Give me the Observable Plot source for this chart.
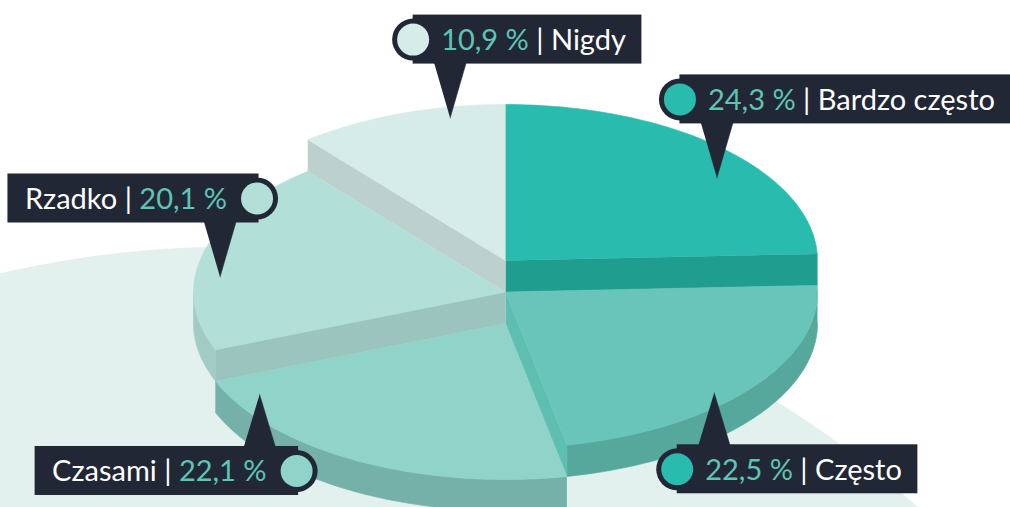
<!DOCTYPE html>
<html>
<head>
<meta charset="utf-8">
<script src="https://cdn.jsdelivr.net/npm/d3@7"></script>
<script src="https://cdn.jsdelivr.net/npm/@observablehq/plot@0.6"></script>
<style>
  html, body { margin: 0; padding: 0; background: #ffffff; }
  #chart { width: 1010px; height: 507px; overflow: hidden; }
</style>
</head>
<body>
<div id="chart"></div>
<script>
// ---------- data ----------
const categories = ["Bardzo często", "Często", "Czasami", "Rzadko", "Nigdy"];
const values = [24.3, 22.5, 22.1, 20.1, 10.9];

// ---------- styling / layout ----------
const topColors = ["#29bbad", "#69c5b9", "#8fd3c9", "#b3dfd9", "#d6ece8"];
const markerColors = ["#29bbad", "#29bbad", "#8fd3c9", "#b3dfd9", "#d6ece8"];
const outerWallColors = ["#1f9e8f", "#56a89c", "#76b1a9", "#a2cbc5", "#bcd1cd"];
const radialWallColors = ["#1f9e8f", "#5ebfb1", "#7fc4ba", "#9cc4be", "#bcd1cd"];
const sliceLevels = [0, 1, 2, 1, 0];
const calloutAngle = [52, 134, 240, 276, 349];
const calloutRadius = [0.86, 0.93, 0.91, 0.92, 0.93];
const calloutSide = ["right", "right", "left", "left", "right"];
const calloutDir = ["up", "down", "down", "up", "up"];

const W = 1010, H = 507;
const cx = 505, cy = 260, rx = 312, ry = 156, depth = 31.5;
const dark = "#222736", teal = "#5ec4b3";
const fontSize = 29, fontFamily = "Lato, 'Open Sans', sans-serif";

const total = d3.sum(values);
let acc = 0;
const slices = values.map((v, i) => {
  const a0 = acc / total * 360; acc += v; const a1 = acc / total * 360;
  return {i, a0, a1, level: sliceLevels[i]};
});

function proj(deg, r, level, down) {
  const t = deg * Math.PI / 180;
  return {x: cx + rx * r * Math.sin(t), y: cy + level * depth + down - ry * r * Math.cos(t)};
}
function arc(a0, a1, level, down) {
  const n = Math.max(2, Math.ceil(Math.abs(a1 - a0)));
  const pts = [];
  for (let k = 0; k <= n; k++) pts.push(proj(a0 + (a1 - a0) * k / n, 1, level, down));
  return pts;
}

// polygons in painter's order
const polys = [];
// background disc
{
  const pts = [];
  const bcx = 233, bcy = 1275, br = 1029;
  for (let k = 0; k <= 360; k++) {
    const t = k * Math.PI / 180;
    pts.push({x: bcx + br * Math.cos(t), y: bcy + br * Math.sin(t)});
  }
  polys.push({pts, color: "#e3f1ee", stroke: "none"});
}
const n = slices.length;
const order = slices.slice().sort((a, b) => a.level - b.level || a.i - b.i);
for (const s of order) {
  const prev = slices[(s.i - 1 + n) % n], next = slices[(s.i + 1) % n];
  const lo = Math.max(s.a0, 90), hi = Math.min(s.a1, 270);
  if (hi > lo) {
    const pts = arc(lo, hi, s.level, 0).concat(arc(hi, lo, s.level, depth));
    polys.push({pts, color: outerWallColors[s.i]});
  }
  if (prev.level > s.level) {
    const c = proj(0, 0, s.level, 0), e = proj(s.a0, 1, s.level, 0);
    polys.push({pts: [c, e, {x: e.x, y: e.y + depth}, {x: c.x, y: c.y + depth}], color: radialWallColors[s.i]});
  }
  if (next.level > s.level) {
    const c = proj(0, 0, s.level, 0), e = proj(s.a1, 1, s.level, 0);
    polys.push({pts: [c, e, {x: e.x, y: e.y + depth}, {x: c.x, y: c.y + depth}], color: radialWallColors[s.i]});
  }
  const top = [proj(0, 0, s.level, 0)].concat(arc(s.a0, s.a1, s.level, 0));
  polys.push({pts: top, color: topColors[s.i]});
}

// ---------- callouts ----------
const ctx = document.createElement("canvas").getContext("2d");
ctx.font = `${fontSize}px Lato`;
const mw = s => ctx.measureText(s).width;
const fmt = v => v.toFixed(1).replace(".", ",") + " %";

const boxes = [], dotsData = [], texts = [], tris = [];
slices.forEach(s => {
  const i = s.i;
  const apex = proj(calloutAngle[i], calloutRadius[i], s.level, 0);
  const side = calloutSide[i], dir = calloutDir[i];
  const pct = fmt(values[i]);
  let y1, y2, baseY;
  if (dir === "up") { y2 = apex.y - 54; y1 = y2 - 49; baseY = y2 - 1; }
  else { y1 = apex.y + 52; y2 = y1 + 49; baseY = y1 + 1; }
  const ymid = (y1 + y2) / 2;
  const circX = side === "right" ? apex.x - 37 : apex.x + 37;
  if (side === "right") {
    const tx = circX + 28;
    const second = "| " + categories[i];
    const x2Text = tx + mw(pct) + mw(" ");
    const end = x2Text + mw(second);
    boxes.push({x1: circX, x2: end + 16, y1, y2});
    texts.push({x: tx, y: ymid, t: pct, c: teal, a: "start"});
    texts.push({x: x2Text, y: ymid, t: second, c: "#ffffff", a: "start"});
  } else {
    const tEnd = circX - 30;
    const first = categories[i] + " |";
    const firstEnd = tEnd - mw(pct) - mw(" ");
    const start = firstEnd - mw(first);
    boxes.push({x1: start - 17, x2: circX + 2, y1, y2});
    texts.push({x: tEnd, y: ymid, t: pct, c: teal, a: "end"});
    texts.push({x: firstEnd, y: ymid, t: first, c: "#ffffff", a: "end"});
  }
  dotsData.push({x: circX, y: ymid, c: markerColors[i]});
  tris.push([{x: apex.x - 16, y: baseY}, {x: apex.x + 16, y: baseY}, {x: apex.x, y: apex.y}]);
});

const marks = [];
for (const p of polys) {
  marks.push(Plot.line(p.pts, {x: "x", y: "y", fill: p.color, stroke: p.stroke || p.color, strokeWidth: 0.6, curve: "linear"}));
}
for (const t of tris) marks.push(Plot.line(t, {x: "x", y: "y", fill: dark, stroke: dark, strokeWidth: 0.5}));
marks.push(Plot.rect(boxes, {x1: "x1", x2: "x2", y1: "y1", y2: "y2", fill: dark}));
marks.push(Plot.dot(dotsData, {x: "x", y: "y", r: 21, fill: dark, stroke: "none"}));
marks.push(Plot.dot(dotsData, {x: "x", y: "y", r: 16, fill: "c", stroke: "none"}));
for (const anchor of ["start", "end"]) {
  marks.push(Plot.text(texts.filter(d => d.a === anchor), {
    x: "x", y: "y", text: "t", fill: "c", textAnchor: anchor,
    fontSize, fontFamily, dy: 1
  }));
}

const chart = Plot.plot({
  width: W, height: H,
  margin: 0,
  style: {background: "#ffffff", overflow: "hidden"},
  x: {domain: [0, W], range: [0, W], axis: null},
  y: {domain: [0, H], range: [0, H], axis: null},
  color: {type: "identity"},
  marks
});
document.getElementById("chart").appendChild(chart);
</script>
</body>
</html>
